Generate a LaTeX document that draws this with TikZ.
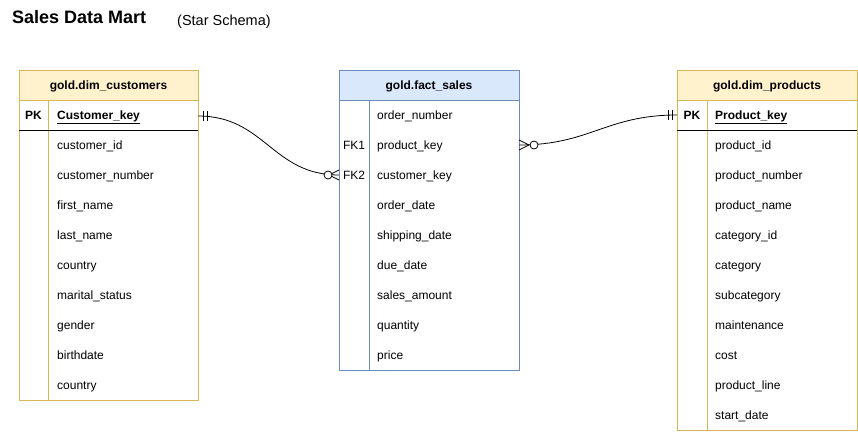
\documentclass[tikz,border=0pt]{standalone}
\usepackage{fontspec}
\setmainfont{Liberation Sans}
\definecolor{ygold}{HTML}{D6B656}
\definecolor{yfill}{HTML}{FFF2CC}
\definecolor{bfill}{HTML}{DAE8FC}
\definecolor{bline}{HTML}{6C8EBF}
\begin{document}
\begin{tikzpicture}[x=1pt,y=-1pt,
  cell/.style={anchor=base west,inner sep=0pt,yshift=-4.5pt,font=\fontsize{12}{14}\selectfont},
  keylbl/.style={anchor=base,inner sep=0pt,yshift=-4.5pt,font=\fontsize{12}{14}\selectfont},
  hdr/.style={anchor=base,inner sep=0pt,yshift=-4.5pt,font=\fontsize{12}{14}\selectfont\bfseries},
  conn/.style={line width=0.8pt},
  circ/.style={line width=0.8pt,fill=white}]
\useasboundingbox (0,0) rectangle (858,431);
% titles
\node[inner sep=0pt,anchor=base west,font=\fontsize{18}{20}\selectfont\bfseries] (title) at (12,23.5) {Sales Data Mart};
\node[inner sep=0pt,anchor=base west,font=\fontsize{14.5}{16}\selectfont] (subtitle) at (177,25.5) {(Star Schema)};

% ---- customers
\filldraw[fill=yfill,draw=ygold,line width=0.8pt] (19,70) rectangle (198,100);
\draw[ygold,line width=0.8pt] (19,100) rectangle (198,400);
\draw[ygold,line width=0.8pt] (48,100) -- (48,400);
\draw[black,line width=0.8pt] (19,130) -- (198,130);
\node[hdr] (cust) at (108.5,85) {gold.dim\_customers};
\node[keylbl,font=\fontsize{12}{14}\selectfont\bfseries] (custpklbl) at (33.5,115) {PK};
\node[cell,font=\fontsize{12}{14}\selectfont\bfseries] (custpk) at (57,115) {\underline{Customer\_key}};
\foreach \t [count=\i] in {customer\_id,customer\_number,first\_name,last\_name,country,marital\_status,gender,birthdate,country}
  \node[cell] (cust\i) at (57,115+30*\i) {\t};

% ---- fact
\filldraw[fill=bfill,draw=bline,line width=0.8pt] (339,70) rectangle (519,100);
\draw[bline,line width=0.8pt] (339,100) rectangle (519,370);
\draw[bline,line width=0.8pt] (369,100) -- (369,370);
\node[hdr] (fact) at (429,85) {gold.fact\_sales};
\foreach \t [count=\i] in {order\_number,product\_key,customer\_key,order\_date,shipping\_date,due\_date,sales\_amount,quantity,price}
  \node[cell] (fact\i) at (377,85+30*\i) {\t};
\node[keylbl] (fk1) at (354,145) {FK1};
\node[keylbl] (fk2) at (354,175) {FK2};

% ---- products
\filldraw[fill=yfill,draw=ygold,line width=0.8pt] (677,70) rectangle (857,100);
\draw[ygold,line width=0.8pt] (677,100) rectangle (857,430);
\draw[ygold,line width=0.8pt] (707,100) -- (707,430);
\draw[black,line width=0.8pt] (677,130) -- (857,130);
\node[hdr] (prod) at (767,85) {gold.dim\_products};
\node[keylbl,font=\fontsize{12}{14}\selectfont\bfseries] (prodpklbl) at (692,115) {PK};
\node[cell,font=\fontsize{12}{14}\selectfont\bfseries] (prodpk) at (715,115) {\underline{Product\_key}};
\foreach \t [count=\i] in {product\_id,product\_number,product\_name,category\_id,category,subcategory,maintenance,cost,product\_line,start\_date}
  \node[cell] (prod\i) at (715,115+30*\i) {\t};

% ---- connectors
\coordinate (cA) at (198,116);
\coordinate (fB) at (339,175);
\coordinate (fA) at (519,145);
\coordinate (pA) at (677,115);

\draw[conn] (cA) .. controls (265,116) and (272,175) .. (fB);
\draw[conn] (cA) ++(5,-5) -- ++(0,10);
\draw[conn] (cA) ++(9,-5) -- ++(0,10);
\draw[conn] (fB) ++(-10,0) -- ++(10,-5);
\draw[conn] (fB) ++(-10,0) -- ++(10,5);
\draw[circ] (fB) ++(-11,0) circle[radius=4];

\draw[conn] (fA) .. controls (590,145) and (606,115) .. (pA);
\draw[conn] (pA) ++(-5,-5) -- ++(0,10);
\draw[conn] (pA) ++(-9,-5) -- ++(0,10);
\draw[conn] (fA) ++(10,0) -- ++(-10,-5);
\draw[conn] (fA) ++(10,0) -- ++(-10,5);
\draw[circ] (fA) ++(15,0) circle[radius=4];
\end{tikzpicture}
\end{document}
